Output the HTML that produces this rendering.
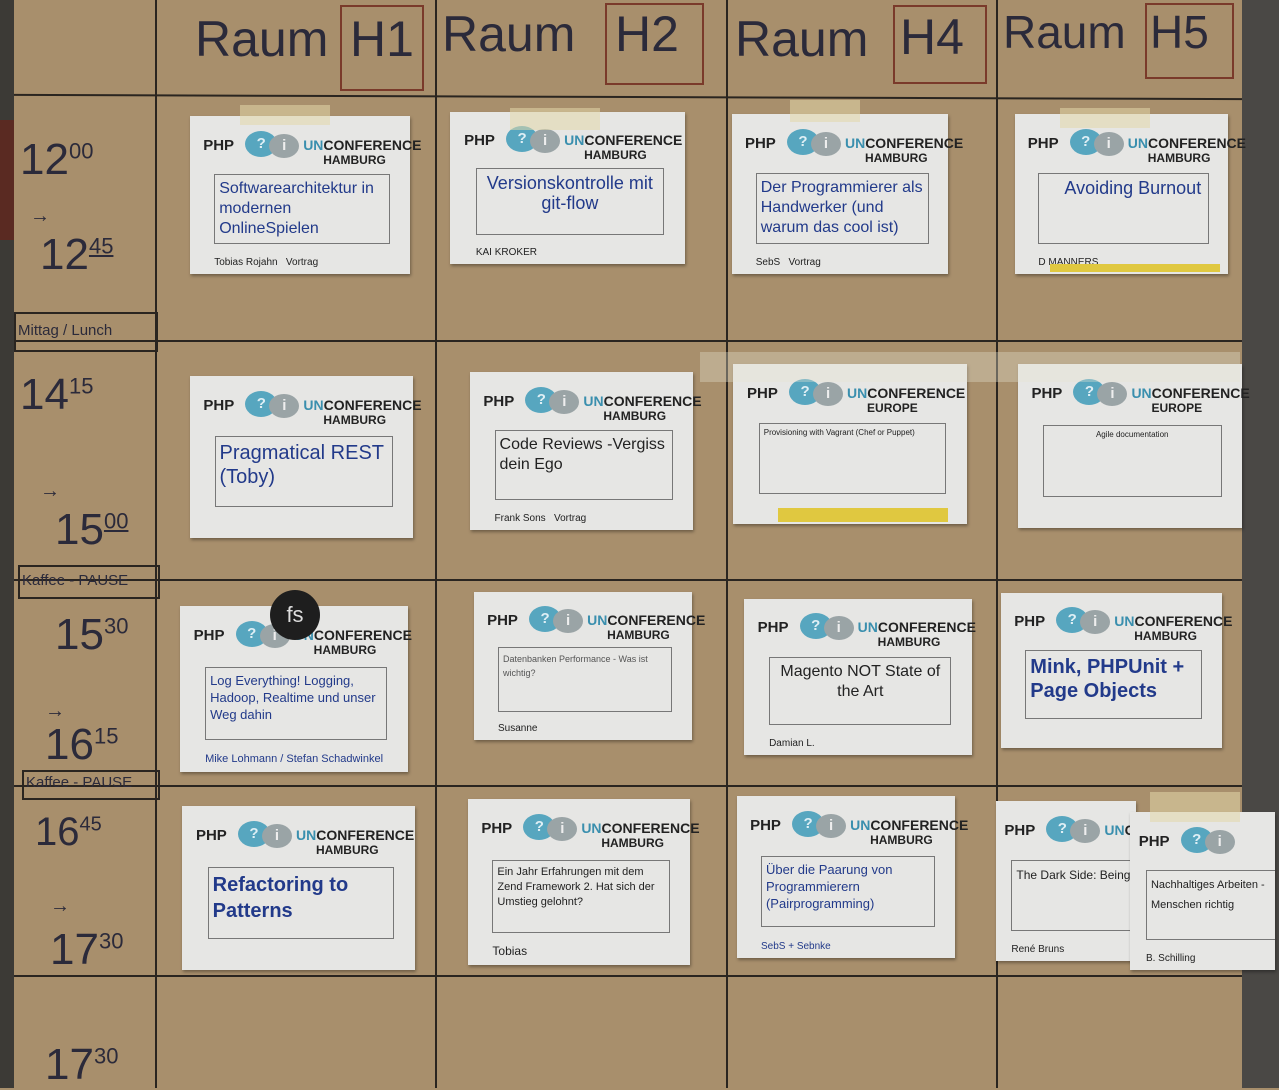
<!DOCTYPE html>
<html><head><meta charset="utf-8"><style>
body{margin:0;width:1279px;height:1088px;overflow:hidden;background:#a88f6c;position:relative;font-family:"Liberation Sans",sans-serif}
.ab{position:absolute}
.vl{position:absolute;width:2px;background:#2a2520}
.hl{position:absolute;height:2px;background:#2a2520}
.hw{position:absolute;font-family:"Liberation Sans",sans-serif;color:#2b2a3a;font-weight:300}
.c{position:absolute;background:#e6e6e4;box-shadow:1px 2px 3px rgba(0,0,0,.35)}
.h{position:absolute;left:6%;top:8%;width:90%;height:25%;font-weight:bold;color:#222;font-size:15px;white-space:nowrap}
.h .p{position:absolute;left:0;top:8px}
.h .b1{position:absolute;left:42px;top:2px;width:32px;height:26px;border-radius:50%;background:#57a6bf;color:#dfeff5;text-align:center;line-height:26px}
.h .b2{position:absolute;left:66px;top:5px;width:30px;height:24px;border-radius:50%;background:#9aa4a6;color:#eee;text-align:center;line-height:24px}
.h .u{position:absolute;left:100px;top:8px;font-size:14px}
.h .u i{font-style:normal;color:#3a8fae}
.h .hb{position:absolute;left:120px;top:24px;font-size:12px}
.box{position:absolute;left:11%;top:37%;width:80%;height:44%;border:1px solid #777;color:#223a8a;font-size:16px;line-height:20px;padding:4px;box-sizing:border-box;font-family:"Liberation Sans",sans-serif}
.f{position:absolute;left:11%;bottom:4%;font-size:10px;color:#222}
.tape{position:absolute;background:rgba(225,215,170,.55)}
</style></head><body>
<div class="ab" style="left:0;top:0;width:14px;height:1088px;background:#3c3a36"></div>
<div class="ab" style="left:1242px;top:0;width:37px;height:1088px;background:#4a4845"></div>
<div class="ab" style="left:0;top:120px;width:14px;height:120px;background:#5a2a22"></div>

<div class="vl" style="left:155px;top:0;height:1088px"></div>
<div class="vl" style="left:435px;top:0;height:1088px"></div>
<div class="vl" style="left:726px;top:0;height:1088px"></div>
<div class="vl" style="left:996px;top:0;height:1088px"></div>
<div class="hl" style="left:14px;top:96px;width:1228px;transform:rotate(.2deg)"></div>
<div class="hl" style="left:14px;top:340px;width:1228px"></div>
<div class="hl" style="left:14px;top:579px;width:1228px"></div>
<div class="hl" style="left:14px;top:785px;width:1228px"></div>
<div class="hl" style="left:14px;top:975px;width:1228px"></div>

<div class="hw" style="left:195px;top:10px;font-size:50px">Raum</div>
<div class="ab" style="left:340px;top:5px;width:80px;height:82px;border:2px solid #7a3a2a"></div>
<div class="hw" style="left:350px;top:10px;font-size:50px">H1</div>
<div class="hw" style="left:442px;top:5px;font-size:50px">Raum</div>
<div class="ab" style="left:605px;top:3px;width:95px;height:78px;border:2px solid #7a3a2a"></div>
<div class="hw" style="left:615px;top:5px;font-size:50px">H2</div>
<div class="hw" style="left:735px;top:10px;font-size:50px">Raum</div>
<div class="ab" style="left:893px;top:5px;width:90px;height:75px;border:2px solid #7a3a2a"></div>
<div class="hw" style="left:900px;top:8px;font-size:50px">H4</div>
<div class="hw" style="left:1003px;top:5px;font-size:46px">Raum</div>
<div class="ab" style="left:1145px;top:3px;width:85px;height:72px;border:2px solid #7a3a2a"></div>
<div class="hw" style="left:1150px;top:5px;font-size:46px">H5</div>

<div class="hw" style="left:20px;top:135px;font-size:44px">12<sup style="font-size:22px">00</sup></div>
<div class="hw" style="left:30px;top:205px;font-size:20px">→</div>
<div class="hw" style="left:40px;top:230px;font-size:44px">12<sup style="font-size:22px;text-decoration:underline">45</sup></div>
<div class="ab" style="left:14px;top:312px;width:140px;height:36px;border:2px solid #2a2520"></div>
<div class="hw" style="left:18px;top:322px;font-size:15px">Mittag / Lunch</div>
<div class="hw" style="left:20px;top:370px;font-size:44px">14<sup style="font-size:22px">15</sup></div>
<div class="hw" style="left:40px;top:480px;font-size:20px">→</div>
<div class="hw" style="left:55px;top:505px;font-size:44px">15<sup style="font-size:22px;text-decoration:underline">00</sup></div>
<div class="ab" style="left:18px;top:565px;width:138px;height:30px;border:2px solid #2a2520"></div>
<div class="hw" style="left:22px;top:572px;font-size:15px">Kaffee - PAUSE</div>
<div class="hw" style="left:55px;top:610px;font-size:44px">15<sup style="font-size:22px">30</sup></div>
<div class="hw" style="left:45px;top:700px;font-size:20px">→</div>
<div class="hw" style="left:45px;top:720px;font-size:44px">16<sup style="font-size:22px">15</sup></div>
<div class="ab" style="left:22px;top:770px;width:134px;height:26px;border:2px solid #2a2520"></div>
<div class="hw" style="left:26px;top:774px;font-size:15px">Kaffee - PAUSE</div>
<div class="hw" style="left:35px;top:810px;font-size:40px">16<sup style="font-size:20px">45</sup></div>
<div class="hw" style="left:50px;top:895px;font-size:20px">→</div>
<div class="hw" style="left:50px;top:925px;font-size:44px">17<sup style="font-size:22px">30</sup></div>
<div class="hw" style="left:45px;top:1040px;font-size:44px">17<sup style="font-size:22px">30</sup></div>

<!-- row 1 -->
<div class="c" style="left:190px;top:116px;width:220px;height:158px"><div class="h"><span class="p">PHP</span><span class="b1">?</span><span class="b2">i</span><span class="u"><i>UN</i>CONFERENCE</span><span class="hb">HAMBURG</span></div><div class="box">Softwarearchitektur in modernen OnlineSpielen</div><div class="f">Tobias Rojahn &nbsp; Vortrag</div></div>
<div class="c" style="left:450px;top:112px;width:235px;height:152px"><div class="h"><span class="p">PHP</span><span class="b1">?</span><span class="b2">i</span><span class="u"><i>UN</i>CONFERENCE</span><span class="hb">HAMBURG</span></div><div class="box" style="text-align:center;font-size:18px">Versionskontrolle mit git-flow</div><div class="f">KAI KROKER</div></div>
<div class="c" style="left:732px;top:114px;width:216px;height:160px"><div class="h"><span class="p">PHP</span><span class="b1">?</span><span class="b2">i</span><span class="u"><i>UN</i>CONFERENCE</span><span class="hb">HAMBURG</span></div><div class="box">Der Programmierer als Handwerker (und warum das cool ist)</div><div class="f">SebS &nbsp; Vortrag</div></div>
<div class="c" style="left:1015px;top:114px;width:213px;height:160px"><div class="h"><span class="p">PHP</span><span class="b1">?</span><span class="b2">i</span><span class="u"><i>UN</i>CONFERENCE</span><span class="hb">HAMBURG</span></div><div class="box" style="font-size:18px;padding-left:25px">Avoiding Burnout</div><div class="f">D MANNERS</div><div class="ab" style="left:35px;bottom:2px;width:170px;height:8px;background:#e0c840"></div></div>

<!-- row 2 -->
<div class="c" style="left:190px;top:376px;width:223px;height:162px"><div class="h"><span class="p">PHP</span><span class="b1">?</span><span class="b2">i</span><span class="u"><i>UN</i>CONFERENCE</span><span class="hb">HAMBURG</span></div><div class="box" style="font-size:20px;line-height:24px">Pragmatical REST (Toby)</div></div>
<div class="c" style="left:470px;top:372px;width:223px;height:158px"><div class="h"><span class="p">PHP</span><span class="b1">?</span><span class="b2">i</span><span class="u"><i>UN</i>CONFERENCE</span><span class="hb">HAMBURG</span></div><div class="box" style="color:#222">Code Reviews -Vergiss dein Ego</div><div class="f">Frank Sons &nbsp; Vortrag</div></div>
<div class="c" style="left:733px;top:364px;width:234px;height:160px"><div class="h"><span class="p">PHP</span><span class="b1">?</span><span class="b2">i</span><span class="u"><i>UN</i>CONFERENCE</span><span class="hb">EUROPE</span></div><div class="box" style="font-size:8px;line-height:10px;color:#222">Provisioning with Vagrant (Chef or Puppet)</div><div class="ab" style="left:45px;bottom:2px;width:170px;height:14px;background:#e0c840"></div></div>
<div class="c" style="left:1018px;top:364px;width:224px;height:164px"><div class="h"><span class="p">PHP</span><span class="b1">?</span><span class="b2">i</span><span class="u"><i>UN</i>CONFERENCE</span><span class="hb">EUROPE</span></div><div class="box" style="font-size:8px;line-height:10px;color:#222;text-align:center">Agile documentation</div></div>

<!-- row 3 -->
<div class="c" style="left:180px;top:606px;width:228px;height:166px"><div class="h"><span class="p">PHP</span><span class="b1">?</span><span class="b2">i</span><span class="u"><i>UN</i>CONFERENCE</span><span class="hb">HAMBURG</span></div><div class="box" style="font-size:13px;line-height:17px">Log Everything! Logging, Hadoop, Realtime und unser Weg dahin</div><div class="f" style="color:#223a8a;font-size:11px">Mike Lohmann / Stefan Schadwinkel</div></div>
<div class="ab" style="left:270px;top:590px;width:50px;height:50px;border-radius:50%;background:#1e1e1e;color:#ddd;text-align:center;line-height:50px;font-size:22px">fs</div>
<div class="c" style="left:474px;top:592px;width:218px;height:148px"><div class="h"><span class="p">PHP</span><span class="b1">?</span><span class="b2">i</span><span class="u"><i>UN</i>CONFERENCE</span><span class="hb">HAMBURG</span></div><div class="box" style="font-size:9px;line-height:14px;color:#555">Datenbanken Performance - Was ist wichtig?</div><div class="f">Susanne</div></div>
<div class="c" style="left:744px;top:599px;width:228px;height:156px"><div class="h"><span class="p">PHP</span><span class="b1">?</span><span class="b2">i</span><span class="u"><i>UN</i>CONFERENCE</span><span class="hb">HAMBURG</span></div><div class="box" style="text-align:center;color:#222">Magento NOT State of the Art</div><div class="f">Damian L.</div></div>
<div class="c" style="left:1001px;top:593px;width:221px;height:155px"><div class="h"><span class="p">PHP</span><span class="b1">?</span><span class="b2">i</span><span class="u"><i>UN</i>CONFERENCE</span><span class="hb">HAMBURG</span></div><div class="box" style="font-size:20px;line-height:24px;font-weight:bold">Mink, PHPUnit + Page Objects</div></div>

<!-- row 4 -->
<div class="c" style="left:182px;top:806px;width:233px;height:164px"><div class="h"><span class="p">PHP</span><span class="b1">?</span><span class="b2">i</span><span class="u"><i>UN</i>CONFERENCE</span><span class="hb">HAMBURG</span></div><div class="box" style="font-size:20px;line-height:26px;font-weight:bold">Refactoring to Patterns</div></div>
<div class="c" style="left:468px;top:799px;width:222px;height:166px"><div class="h"><span class="p">PHP</span><span class="b1">?</span><span class="b2">i</span><span class="u"><i>UN</i>CONFERENCE</span><span class="hb">HAMBURG</span></div><div class="box" style="font-size:11px;line-height:15px;color:#222">Ein Jahr Erfahrungen mit dem Zend Framework 2. Hat sich der Umstieg gelohnt?</div><div class="f" style="font-size:12px">Tobias</div></div>
<div class="c" style="left:737px;top:796px;width:218px;height:162px"><div class="h"><span class="p">PHP</span><span class="b1">?</span><span class="b2">i</span><span class="u"><i>UN</i>CONFERENCE</span><span class="hb">HAMBURG</span></div><div class="box" style="font-size:13px;line-height:17px">Über die Paarung von Programmierern (Pairprogramming)</div><div class="f" style="color:#223a8a">SebS + Sebnke</div></div>
<div class="c" style="left:996px;top:801px;width:140px;height:160px;overflow:hidden"><div class="h"><span class="p">PHP</span><span class="b1">?</span><span class="b2">i</span><span class="u"><i>UN</i>CONF</span></div><div class="box" style="width:120%;font-size:12px;color:#222">The Dark Side: Being A Lead</div><div class="f">René Bruns</div></div>
<div class="c" style="left:1130px;top:812px;width:145px;height:158px;overflow:hidden"><div class="h"><span class="p">PHP</span><span class="b1">?</span><span class="b2">i</span></div><div class="box" style="width:110%;font-size:11px;color:#222">Nachhaltiges Arbeiten - Menschen richtig</div><div class="f">B. Schilling</div></div>

<div class="tape" style="left:240px;top:105px;width:90px;height:20px"></div>
<div class="tape" style="left:510px;top:108px;width:90px;height:22px"></div>
<div class="tape" style="left:790px;top:100px;width:70px;height:22px"></div>
<div class="tape" style="left:1060px;top:108px;width:90px;height:20px"></div>
<div class="tape" style="left:700px;top:352px;width:540px;height:30px;background:rgba(230,225,210,.35)"></div>
<div class="tape" style="left:1150px;top:792px;width:90px;height:30px"></div>
</body></html>
